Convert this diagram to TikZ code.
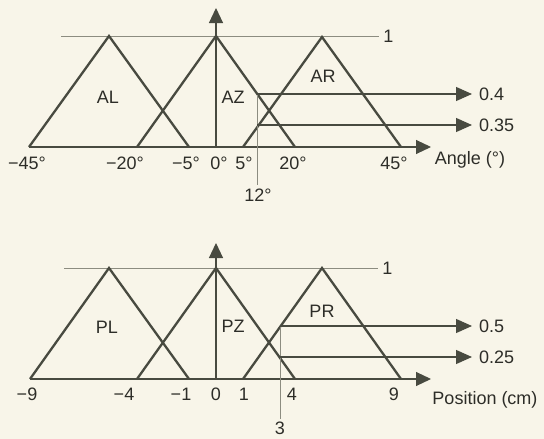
\documentclass[tikz,border=0pt]{standalone}
\usepackage{fontspec}
\setmainfont{Liberation Sans}
\usetikzlibrary{arrows.meta}
\definecolor{paper}{RGB}{248,245,233}
\definecolor{ink}{RGB}{72,74,64}
\definecolor{rule}{RGB}{140,140,128}
\definecolor{lettering}{RGB}{45,45,40}
\tikzset{
  memb/.style={line width=2.3pt, ink, line join=miter},
  axis/.style={line width=1.1pt, ink, -{Triangle[length=15pt,width=14pt]}},
  level/.style={line width=1.2pt, ink, -{Triangle[length=16pt,width=14pt]}},
  guide/.style={line width=0.7pt, rule},
  lbl/.style={font=\fontsize{18}{20}\selectfont, text=lettering, inner sep=0pt},
}
\begin{document}
\begin{tikzpicture}[x=1pt, y=-1pt]
        % Paper and picture size (pixel units, y downwards)
        \fill[paper] (0,0) rectangle (544,439);
        \useasboundingbox (0,0) rectangle (544,439);

        % ---------------- Angle ----------------
        % Axes
        \coordinate (aO) at (216,147);
        \coordinate (aS) at (29,147);
        \coordinate (aX) at (431,147);
        \coordinate (aY) at (216,8);
        \draw[axis] (aS) -- (aX);
        \draw[axis] (aO) -- (aY);

        % Grade 1 line
        \coordinate (aTop) at (61,36);
        \coordinate (aTopEnd) at (379,36);
        \draw[guide] (aTop) -- (aTopEnd) node[lbl, right=4pt] (aOne) {1};

        % Membership triangles AL, AZ, AR
        \draw[memb] (29,147) -- (109,36) -- (189,147);
        \draw[memb] (137,147) -- (216,36) -- (295,147);
        \draw[memb] (243,147) -- (322,37) -- (401,147);
        \node[lbl] (al) at (108,97) {AL};
        \node[lbl] (az) at (233,97) {AZ};
        \node[lbl] (ar) at (323,76) {AR};

        % Input 12 degrees and the two grades
        \coordinate (aHi) at (257,94);
        \coordinate (aLo) at (257,125);
        \coordinate (aFoot) at (257,185);
        \node[lbl, anchor=west] (g04) at (479,94) {0.4};
        \node[lbl, anchor=west] (g035) at (479,125) {0.35};
        \draw[guide] (aHi) -- (aFoot);
        \draw[level] (aHi) -- (g04.west -| 472,0);
        \draw[level] (aLo) -- (g035.west -| 472,0);
        \node[lbl] (a12) at (258,195) {12°};

        % Tick labels
        \node[lbl] (am45) at (27,163) {−45°};
        \node[lbl] (am20) at (125,163) {−20°};
        \node[lbl] (am5) at (186,163) {−5°};
        \node[lbl] (a0) at (219,163) {0°};
        \node[lbl] (a5) at (244,163) {5°};
        \node[lbl] (a20) at (293,163) {20°};
        \node[lbl] (a45) at (394,163) {45°};
        \node[lbl] (aName) at (470,160) {Angle (°)};

        % ---------------- Position ----------------
        % Axes
        \coordinate (pO) at (216,379);
        \coordinate (pS) at (30,379);
        \coordinate (pX) at (431,379);
        \coordinate (pY) at (216,243);
        \draw[axis] (pS) -- (pX);
        \draw[axis] (pO) -- (pY);

        % Grade 1 line
        \coordinate (pTop) at (64,268);
        \coordinate (pTopEnd) at (378,268);
        \draw[guide] (pTop) -- (pTopEnd) node[lbl, right=4pt] (pOne) {1};

        % Membership triangles PL, PZ, PR
        \draw[memb] (30,379) -- (109,268) -- (189,379);
        \draw[memb] (137,379) -- (216,268) -- (295,379);
        \draw[memb] (243,379) -- (322,268) -- (401,379);
        \node[lbl] (pl) at (107,327) {PL};
        \node[lbl] (pz) at (233,326) {PZ};
        \node[lbl] (pr) at (322,311) {PR};

        % Input 3 cm and the two grades
        \coordinate (pHi) at (280,326);
        \coordinate (pLo) at (280,357);
        \coordinate (pFoot) at (280,419);
        \node[lbl, anchor=west] (g05) at (479,326) {0.5};
        \node[lbl, anchor=west] (g025) at (479,357) {0.25};
        \draw[guide] (pHi) -- (pFoot);
        \draw[level] (pHi) -- (g05.west -| 472,0);
        \draw[level] (pLo) -- (g025.west -| 472,0);
        \node[lbl] (p3) at (280,428) {3};

        % Tick labels
        \node[lbl] (pm9) at (27,394) {−9};
        \node[lbl] (pm4) at (124,394) {−4};
        \node[lbl] (pm1) at (181,394) {−1};
        \node[lbl] (p0) at (216,394) {0};
        \node[lbl] (p1) at (244,394) {1};
        \node[lbl] (p4) at (292,394) {4};
        \node[lbl] (p9) at (394,394) {9};
        \node[lbl] (pName) at (485,400) {Position (cm)};

    \end{tikzpicture}
\end{document}
